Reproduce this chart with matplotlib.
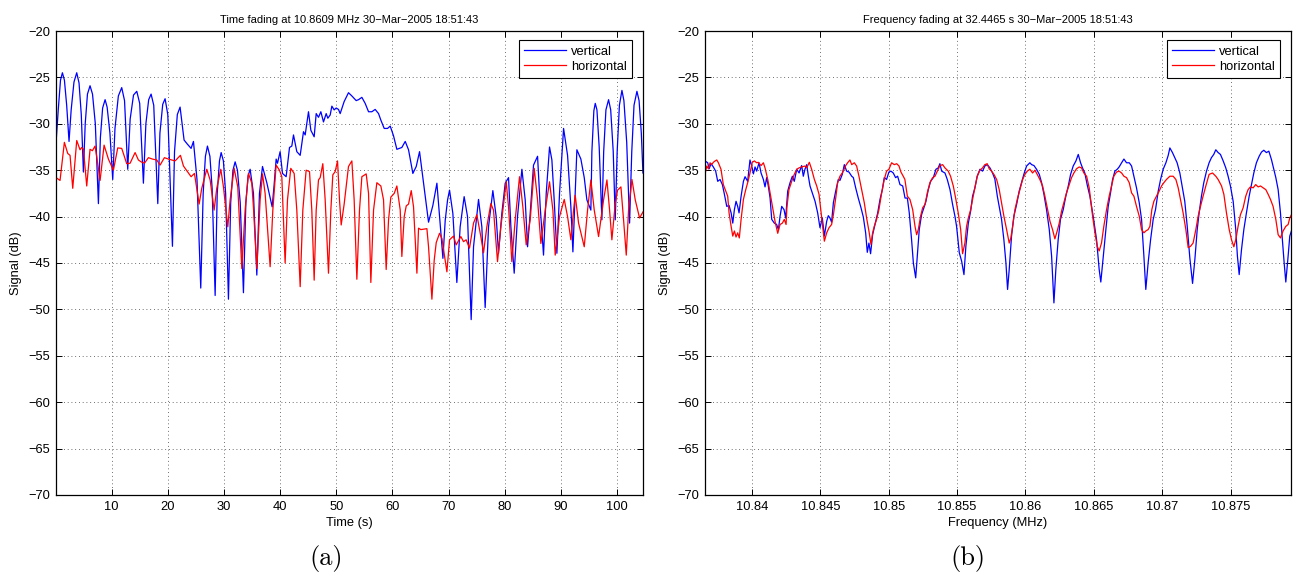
import numpy as np
import matplotlib
matplotlib.use('Agg')
import matplotlib.pyplot as plt
from matplotlib.ticker import FormatStrFormatter

# ---- time fading at 10.8609 MHz: (time s, signal dB) ----
tfade_vert = np.array([
    (0.1, -32.1), (0.5, -28.5), (0.9, -25.3), (1.24, -24.5), (1.6, -25.3), (2.0, -28.0), (2.42, -31.9),
    (2.8, -28.5), (3.3, -25.5), (3.79, -24.5), (4.2, -25.6), (4.6, -29.0), (4.98, -35.2), (5.3, -30.0),
    (5.7, -26.8), (6.16, -25.9), (6.6, -26.8), (7.1, -30.0), (7.65, -38.6), (8.0, -31.5), (8.4, -28.3),
    (8.84, -27.4), (9.2, -28.2), (9.7, -31.0), (10.2, -36.0), (10.6, -30.5), (11.2, -27.0), (11.8, -26.1),
    (12.3, -27.5), (12.87, -34.9), (13.3, -29.5), (13.9, -26.9), (14.48, -26.5), (15.0, -27.8),
    (15.66, -36.4), (16.1, -30.0), (16.6, -27.4), (17.03, -26.8), (17.5, -28.0), (18.22, -38.6),
    (18.6, -31.0), (19.1, -27.9), (19.52, -27.3), (20.0, -29.0), (20.83, -43.2), (21.2, -33.0),
    (21.7, -29.0), (22.19, -28.2), (22.6, -30.2), (22.9, -31.75), (23.5, -32.2), (24.15, -32.65),
    (24.57, -31.9), (25.2, -36.0), (25.87, -47.7), (26.3, -37.5), (26.7, -33.5), (27.06, -32.4),
    (27.5, -33.5), (27.9, -37.0), (28.43, -48.5), (28.8, -37.5), (29.2, -34.0), (29.5, -33.1),
    (29.9, -34.0), (30.3, -37.5), (30.8, -48.9), (31.2, -38.5), (31.6, -35.0), (31.99, -34.1),
    (32.4, -35.0), (32.9, -38.5), (33.47, -48.2), (33.9, -38.5), (34.3, -35.6), (34.66, -34.9),
    (35.25, -37.5), (35.85, -46.3), (36.32, -37.5), (36.86, -34.6), (37.63, -36.35), (38.58, -38.95),
    (38.93, -36.6), (39.29, -33.8), (39.53, -34.25), (40.0, -33.0), (40.42, -35.35), (41.07, -35.7),
    (41.67, -32.55), (42.08, -32.4), (42.38, -31.2), (42.97, -33.0), (43.57, -33.4), (44.16, -30.85),
    (44.46, -31.2), (45.05, -28.7), (45.47, -30.7), (46.06, -31.4), (46.42, -28.9), (46.83, -29.3),
    (47.25, -28.7), (47.72, -29.8), (48.2, -28.9), (48.49, -29.4), (48.91, -29.05), (49.21, -28.1),
    (49.62, -28.5), (49.98, -28.3), (50.39, -28.45), (50.69, -28.9), (51.4, -27.6), (52.17, -26.65),
    (52.77, -27.0), (53.54, -27.5), (53.96, -27.4), (54.55, -27.15), (55.14, -27.8), (55.74, -28.7),
    (56.33, -28.7), (56.92, -28.45), (57.52, -28.9), (57.93, -29.6), (58.53, -30.5), (59.12, -30.5),
    (59.6, -30.25), (60.19, -31.3), (60.78, -32.75), (61.67, -32.55), (62.27, -31.9), (62.86, -32.8),
    (63.63, -35.35), (64.23, -34.6), (64.82, -33.0), (65.53, -36.4), (66.42, -40.6), (67.19, -38.8),
    (67.91, -36.4), (68.38, -40.0), (68.98, -44.5), (69.39, -40.4), (69.81, -38.2), (70.16, -37.15),
    (70.75, -39.65), (71.46, -47.1), (72.05, -41.1), (72.76, -37.85), (73.36, -40.0), (74.01, -51.1),
    (74.43, -43.25), (75.32, -38.15), (75.91, -41.1), (76.5, -49.8), (77.1, -41.1), (77.87, -37.2),
    (78.46, -40.0), (78.88, -43.95), (79.47, -39.65), (80.07, -36.4), (80.66, -35.8), (81.08, -41.1),
    (81.67, -46.1), (82.26, -40.0), (83.04, -34.9), (83.63, -38.2), (84.05, -43.25), (84.52, -39.65),
    (85.11, -34.45), (85.83, -33.5), (86.3, -38.95), (86.89, -44.15), (87.37, -37.5), (87.96, -32.5),
    (88.38, -33.9), (88.79, -38.2), (89.27, -43.95), (89.74, -37.5), (90.46, -30.5), (91.17, -33.4),
    (91.76, -38.95), (92.12, -43.8), (92.53, -37.5), (92.83, -32.8), (93.54, -33.8), (94.14, -35.8),
    (94.61, -38.2), (95.32, -39.3), (95.5, -33.0), (95.85, -28.6), (96.1, -27.8), (96.4, -28.5),
    (96.8, -32.5), (97.28, -40.35), (97.6, -33.0), (98.0, -28.5), (98.47, -27.4), (98.85, -28.5),
    (99.3, -33.0), (99.66, -40.35), (100.0, -33.0), (100.4, -28.0), (100.85, -26.4), (101.2, -27.5),
    (101.7, -32.0), (102.21, -40.7), (102.6, -33.0), (103.0, -28.0), (103.52, -26.5), (103.9, -27.5),
    (104.3, -31.0), (104.59, -35.3),
])

tfade_horiz = np.array([
    (0.1, -35.8), (0.82, -36.1), (1.59, -32.0), (2.19, -33.2), (2.6, -33.4), (3.08, -36.95),
    (3.79, -31.8), (4.38, -32.8), (4.68, -32.55), (4.98, -32.75), (5.57, -36.7), (6.16, -32.75),
    (6.58, -32.9), (7.05, -32.4), (7.35, -33.55), (7.95, -36.1), (8.66, -32.3), (9.43, -33.8),
    (10.32, -35.0), (11.09, -32.6), (11.8, -32.65), (12.69, -34.3), (13.29, -34.25), (14.18, -33.1),
    (14.77, -33.9), (15.25, -34.1), (15.84, -34.25), (16.55, -33.65), (17.27, -33.8), (18.04, -33.9),
    (18.63, -34.45), (19.4, -33.65), (20.12, -33.8), (21.3, -34.0), (22.25, -33.4), (22.79, -34.55),
    (24.15, -35.7), (24.75, -35.35), (25.58, -38.65), (26.05, -36.95), (26.94, -34.9), (27.54, -36.05),
    (28.25, -39.3), (28.72, -36.95), (29.44, -34.9), (29.91, -36.8), (30.68, -41.1), (31.1, -38.2),
    (31.81, -34.8), (32.46, -36.8), (33.18, -45.6), (33.77, -39.3), (34.36, -35.35), (34.96, -36.4),
    (35.25, -39.0), (35.85, -45.6), (36.44, -38.2), (36.86, -35.4), (37.33, -37.5), (38.22, -45.4),
    (38.7, -39.3), (39.29, -34.45), (39.88, -35.0), (40.3, -35.7), (40.89, -45.0), (41.31, -38.2),
    (41.9, -34.8), (42.5, -35.35), (42.97, -39.3), (43.57, -47.55), (44.04, -39.3), (44.63, -35.0),
    (45.23, -35.15), (45.64, -39.3), (46.06, -46.85), (46.42, -39.3), (46.83, -36.05), (47.13, -35.8),
    (47.6, -34.3), (48.02, -38.2), (48.61, -46.1), (49.03, -39.3), (49.38, -35.5), (49.8, -35.15),
    (50.22, -34.0), (50.57, -38.2), (50.87, -40.9), (51.4, -38.65), (52.17, -34.6), (52.77, -34.0),
    (53.18, -38.2), (53.66, -46.75), (54.13, -39.3), (54.55, -35.7), (55.32, -35.4), (55.74, -37.5),
    (56.15, -47.1), (56.63, -39.3), (57.22, -36.35), (57.93, -36.7), (58.41, -38.2), (58.88, -45.7),
    (59.3, -40.35), (59.71, -37.9), (60.31, -37.5), (60.78, -36.7), (61.38, -39.3), (61.67, -44.3),
    (62.09, -40.0), (62.45, -38.85), (62.86, -38.65), (63.34, -37.2), (63.75, -38.95), (64.35, -46.1),
    (64.64, -41.25), (65.06, -41.4), (66.13, -41.3), (66.42, -43.25), (67.02, -48.9), (67.43, -44.7),
    (67.79, -42.8), (68.38, -41.8), (68.8, -42.35), (69.69, -45.95), (70.16, -42.5), (70.86, -42.1),
    (71.34, -43.05), (72.17, -42.15), (72.65, -42.7), (73.12, -42.5), (73.71, -43.4), (74.43, -40.7),
    (75.02, -39.8), (75.73, -42.15), (76.21, -43.9), (76.8, -41.1), (77.51, -38.6), (77.99, -39.3),
    (78.7, -44.85), (79.3, -41.1), (80.25, -36.25), (80.66, -38.95), (81.25, -44.85), (81.85, -40.35),
    (82.62, -35.7), (83.21, -38.95), (83.81, -43.05), (84.52, -40.35), (85.23, -34.8), (85.83, -38.2),
    (86.42, -42.9), (87.19, -39.3), (87.96, -36.25), (88.56, -39.3), (88.97, -44.15), (89.74, -40.0),
    (90.58, -38.15), (91.17, -40.0), (91.76, -42.5), (92.24, -39.3), (92.53, -37.7), (93.13, -40.7),
    (94.14, -43.25), (94.73, -39.3), (95.32, -36.05), (95.92, -39.3), (96.69, -42.15), (97.58, -38.2),
    (98.18, -36.05), (98.65, -39.3), (99.06, -42.5), (99.66, -38.6), (100.07, -37.15), (100.67, -36.8),
    (101.14, -40.35), (101.62, -44.15), (102.03, -39.3), (102.63, -36.0), (103.22, -38.2),
    (103.99, -40.15), (104.59, -39.5),
])

# ---- frequency fading at 32.4465 s: (frequency MHz, signal dB) ----
ffade_vert = np.array([
    (10.83656, -34.0), (10.83676, -34.2), (10.83686, -34.85), (10.83700, -34.3), (10.83717, -34.65),
    (10.83734, -35.1), (10.83749, -36.2), (10.83766, -36.0), (10.83783, -36.55), (10.83798, -37.6),
    (10.83815, -38.9), (10.83832, -38.8), (10.83847, -39.6), (10.83859, -40.7), (10.83871, -39.25),
    (10.83883, -38.35), (10.83895, -38.9), (10.83905, -39.6), (10.83920, -37.8), (10.83937, -36.2),
    (10.83949, -35.7), (10.83968, -36.2), (10.83985, -33.9), (10.83998, -34.55), (10.84010, -35.4),
    (10.84022, -34.65), (10.84034, -35.1), (10.84051, -34.2), (10.84066, -35.3), (10.84083, -36.0),
    (10.84095, -36.8), (10.84107, -35.8), (10.84119, -36.7), (10.84132, -38.0), (10.84144, -40.3),
    (10.84163, -40.7), (10.84180, -40.85), (10.84193, -41.4), (10.84205, -39.95), (10.84217, -38.9),
    (10.84234, -39.25), (10.84246, -40.15), (10.84261, -37.25), (10.84278, -36.35), (10.84295, -35.65),
    (10.84309, -36.2), (10.84327, -34.9), (10.84344, -35.3), (10.84363, -34.5), (10.84375, -35.65),
    (10.84387, -34.9), (10.84400, -34.4), (10.84412, -35.65), (10.84424, -36.7), (10.84441, -37.45),
    (10.84461, -38.35), (10.84480, -39.6), (10.84497, -41.2), (10.84514, -40.15), (10.84529, -42.1),
    (10.84546, -40.5), (10.84558, -39.9), (10.84570, -40.15), (10.84582, -40.6), (10.84595, -38.5),
    (10.84612, -37.25), (10.84631, -36.0), (10.84643, -36.1), (10.84660, -35.45), (10.84675, -34.4),
    (10.84692, -35.1), (10.84709, -35.2), (10.84729, -35.65), (10.84741, -35.8), (10.84758, -36.9),
    (10.84777, -38.0), (10.84797, -39.05), (10.84814, -40.05), (10.84831, -41.75), (10.84843, -43.85),
    (10.84855, -42.85), (10.84867, -44.0), (10.84882, -41.95), (10.84899, -40.85), (10.84919, -39.6),
    (10.84936, -38.15), (10.84953, -37.1), (10.84967, -35.8), (10.84984, -36.0), (10.85001, -35.2),
    (10.85016, -35.1), (10.85033, -35.3), (10.85050, -35.8), (10.85065, -35.65), (10.85082, -36.55),
    (10.85102, -36.7), (10.85119, -38.0), (10.85136, -38.0), (10.85150, -39.6), (10.85167, -42.5),
    (10.85180, -45.0), (10.85197, -46.6), (10.85209, -44.25), (10.85223, -41.4), (10.85240, -39.8),
    (10.85257, -39.05), (10.85272, -38.35), (10.85289, -37.1), (10.85306, -36.2), (10.85326, -35.8),
    (10.85345, -34.9), (10.85362, -34.75), (10.85374, -34.3), (10.85387, -35.1), (10.85411, -35.3),
    (10.85428, -36.0), (10.85448, -37.1), (10.85467, -38.7), (10.85484, -39.95), (10.85496, -41.05),
    (10.85516, -43.9), (10.85533, -44.8), (10.85550, -46.25), (10.85564, -43.2), (10.85582, -40.7),
    (10.85599, -39.4), (10.85613, -37.8), (10.85630, -36.9), (10.85647, -35.65), (10.85667, -34.9),
    (10.85686, -35.1), (10.85703, -34.55), (10.85720, -34.4), (10.85740, -34.75), (10.85759, -35.3),
    (10.85776, -35.95), (10.85794, -37.8), (10.85808, -38.9), (10.85825, -40.3), (10.85842, -42.5),
    (10.85857, -45.0), (10.85869, -47.85), (10.85881, -45.7), (10.85898, -42.1), (10.85915, -39.95),
    (10.85935, -38.7), (10.85954, -37.25), (10.85971, -36.35), (10.85988, -35.45), (10.86008, -34.55),
    (10.86032, -34.2), (10.86045, -34.4), (10.86062, -34.5), (10.86081, -34.9), (10.86101, -35.45),
    (10.86118, -36.35), (10.86135, -37.6), (10.86154, -39.25), (10.86174, -41.4), (10.86191, -44.25),
    (10.86208, -49.3), (10.86222, -45.7), (10.86239, -42.5), (10.86256, -40.3), (10.86276, -39.25),
    (10.86295, -37.8), (10.86313, -36.7), (10.86330, -35.45), (10.86349, -34.55), (10.86369, -34.0),
    (10.86386, -33.3), (10.86403, -34.2), (10.86417, -34.75), (10.86434, -35.3), (10.86451, -36.55),
    (10.86471, -37.8), (10.86495, -39.95), (10.86520, -42.5), (10.86539, -45.7), (10.86551, -47.05),
    (10.86569, -44.25), (10.86588, -41.4), (10.86605, -38.9), (10.86622, -37.45), (10.86637, -36.0),
    (10.86654, -35.1), (10.86671, -34.9), (10.86685, -34.65), (10.86703, -34.2), (10.86720, -33.8),
    (10.86739, -34.2), (10.86759, -34.2), (10.86776, -34.55), (10.86793, -35.65), (10.86812, -36.9),
    (10.86832, -38.5), (10.86849, -40.3), (10.86866, -44.25), (10.86880, -47.85), (10.86897, -45.0),
    (10.86915, -42.5), (10.86934, -40.3), (10.86951, -39.25), (10.86971, -37.25), (10.86988, -36.0),
    (10.87007, -34.9), (10.87027, -34.2), (10.87044, -33.4), (10.87056, -32.6), (10.87075, -33.1),
    (10.87092, -33.65), (10.87109, -34.2), (10.87129, -35.3), (10.87148, -36.9), (10.87165, -38.35),
    (10.87183, -41.05), (10.87202, -44.45), (10.87222, -47.2), (10.87239, -44.6), (10.87256, -41.4),
    (10.87270, -39.6), (10.87287, -37.8), (10.87304, -36.35), (10.87324, -35.1), (10.87343, -34.2),
    (10.87360, -33.65), (10.87377, -33.3), (10.87392, -32.8), (10.87409, -33.1), (10.87426, -33.3),
    (10.87446, -34.0), (10.87465, -34.75), (10.87482, -35.65), (10.87499, -36.7), (10.87519, -38.35),
    (10.87538, -41.4), (10.87550, -44.25), (10.87563, -46.25), (10.87580, -43.55), (10.87597, -41.4),
    (10.87616, -39.6), (10.87636, -37.8), (10.87653, -36.55), (10.87670, -35.3), (10.87689, -34.2),
    (10.87709, -33.5), (10.87726, -33.05), (10.87743, -32.85), (10.87762, -33.1), (10.87780, -32.95),
    (10.87799, -33.85), (10.87816, -34.9), (10.87831, -35.8), (10.87848, -37.1), (10.87865, -39.6),
    (10.87879, -42.5), (10.87892, -45.0), (10.87904, -47.05), (10.87921, -44.25), (10.87933, -42.1),
    (10.87945, -41.55),
])

ffade_horiz = np.array([
    (10.83656, -35.45), (10.83669, -34.55), (10.83681, -34.85), (10.83693, -34.2), (10.83705, -34.4),
    (10.83717, -34.15), (10.83730, -34.0), (10.83742, -33.9), (10.83754, -34.2), (10.83773, -34.9),
    (10.83790, -36.55), (10.83808, -37.25), (10.83822, -37.8), (10.83832, -39.6), (10.83847, -41.05),
    (10.83859, -42.1), (10.83871, -41.55), (10.83883, -42.2), (10.83895, -41.75), (10.83907, -42.3),
    (10.83920, -40.3), (10.83937, -38.15), (10.83954, -37.1), (10.83968, -36.35), (10.83985, -35.3),
    (10.84002, -34.15), (10.84017, -34.0), (10.84034, -34.2), (10.84046, -34.15), (10.84066, -34.5),
    (10.84083, -34.2), (10.84095, -34.75), (10.84115, -36.0), (10.84132, -37.45), (10.84149, -38.9),
    (10.84168, -40.5), (10.84188, -41.8), (10.84205, -40.85), (10.84222, -40.7), (10.84236, -40.3),
    (10.84249, -40.85), (10.84255, -39.0), (10.84270, -37.1), (10.84290, -36.2), (10.84309, -35.45),
    (10.84327, -34.9), (10.84344, -34.75), (10.84363, -34.65), (10.84387, -34.55), (10.84400, -34.75),
    (10.84419, -34.15), (10.84436, -34.9), (10.84456, -36.0), (10.84473, -36.7), (10.84490, -37.6),
    (10.84504, -39.4), (10.84514, -40.7), (10.84529, -42.65), (10.84546, -41.75), (10.84563, -41.2),
    (10.84582, -40.85), (10.84595, -39.8), (10.84612, -38.0), (10.84626, -36.35), (10.84643, -35.65),
    (10.84660, -35.3), (10.84675, -34.85), (10.84685, -34.5), (10.84699, -34.2), (10.84716, -33.9),
    (10.84729, -34.4), (10.84748, -34.2), (10.84765, -34.55), (10.84782, -35.65), (10.84802, -37.1),
    (10.84821, -38.5), (10.84838, -40.15), (10.84855, -41.55), (10.84870, -43.0), (10.84882, -41.75),
    (10.84894, -41.05), (10.84911, -40.3), (10.84928, -39.25), (10.84948, -37.45), (10.84967, -36.0),
    (10.84984, -35.1), (10.85001, -34.9), (10.85021, -34.2), (10.85040, -34.4), (10.85058, -34.3),
    (10.85075, -34.55), (10.85089, -35.2), (10.85106, -35.65), (10.85118, -36.0), (10.85136, -37.8),
    (10.85155, -38.15), (10.85175, -39.25), (10.85192, -41.05), (10.85204, -41.95), (10.85216, -41.4),
    (10.85233, -39.95), (10.85248, -39.05), (10.85265, -38.7), (10.85282, -37.45), (10.85301, -36.35),
    (10.85321, -35.8), (10.85338, -35.65), (10.85355, -35.1), (10.85374, -34.5), (10.85394, -34.4),
    (10.85411, -34.75), (10.85435, -35.1), (10.85452, -35.65), (10.85472, -36.7), (10.85491, -38.15),
    (10.85508, -39.6), (10.85526, -41.4), (10.85540, -44.0), (10.85557, -42.85), (10.85569, -41.05),
    (10.85582, -40.15), (10.85599, -39.25), (10.85613, -38.15), (10.85630, -36.9), (10.85647, -35.65),
    (10.85667, -35.0), (10.85686, -34.75), (10.85703, -34.4), (10.85720, -34.3), (10.85735, -34.85),
    (10.85752, -35.1), (10.85769, -35.45), (10.85789, -36.0), (10.85808, -37.1), (10.85825, -38.5),
    (10.85842, -39.95), (10.85862, -41.4), (10.85881, -42.85), (10.85893, -42.3), (10.85906, -41.05),
    (10.85923, -39.25), (10.85940, -38.15), (10.85959, -37.1), (10.85979, -36.0), (10.85996, -35.45),
    (10.86013, -35.1), (10.86032, -34.9), (10.86052, -35.3), (10.86069, -35.0), (10.86086, -35.45),
    (10.86105, -36.0), (10.86125, -36.7), (10.86142, -37.8), (10.86159, -39.05), (10.86179, -40.5),
    (10.86198, -41.4), (10.86215, -42.4), (10.86232, -41.55), (10.86247, -40.7), (10.86264, -39.4),
    (10.86281, -38.5), (10.86300, -37.45), (10.86320, -36.55), (10.86337, -35.8), (10.86354, -35.3),
    (10.86373, -34.85), (10.86393, -34.65), (10.86410, -34.75), (10.86427, -35.3), (10.86447, -35.65),
    (10.86466, -36.9), (10.86491, -39.95), (10.86508, -41.75), (10.86525, -43.2), (10.86539, -43.7),
    (10.86556, -42.85), (10.86573, -41.05), (10.86593, -39.25), (10.86612, -37.8), (10.86629, -36.7),
    (10.86646, -35.65), (10.86666, -35.2), (10.86685, -35.1), (10.86703, -35.3), (10.86720, -35.65),
    (10.86739, -35.8), (10.86759, -36.35), (10.86776, -37.45), (10.86793, -37.8), (10.86812, -38.9),
    (10.86832, -39.95), (10.86849, -41.4), (10.86866, -41.75), (10.86880, -41.55), (10.86897, -41.4),
    (10.86910, -41.05), (10.86924, -39.25), (10.86939, -38.35), (10.86958, -37.8), (10.86978, -37.25),
    (10.86995, -36.7), (10.87012, -36.35), (10.87031, -36.0), (10.87056, -35.65), (10.87080, -35.65),
    (10.87100, -36.0), (10.87117, -36.9), (10.87134, -38.15), (10.87153, -39.6), (10.87173, -41.4),
    (10.87190, -43.35), (10.87207, -43.2), (10.87226, -42.85), (10.87246, -41.4), (10.87263, -39.95),
    (10.87280, -38.9), (10.87299, -37.8), (10.87319, -36.7), (10.87343, -35.45), (10.87368, -35.3),
    (10.87392, -35.65), (10.87409, -36.0), (10.87434, -36.7), (10.87451, -37.6), (10.87470, -39.6),
    (10.87490, -41.4), (10.87507, -42.5), (10.87524, -43.25), (10.87538, -42.5), (10.87555, -41.05),
    (10.87572, -39.8), (10.87592, -39.05), (10.87611, -37.8), (10.87628, -37.1), (10.87645, -36.8),
    (10.87665, -36.9), (10.87684, -36.55), (10.87702, -36.8), (10.87719, -36.7), (10.87738, -36.9),
    (10.87758, -37.1), (10.87775, -37.6), (10.87792, -38.15), (10.87811, -38.9), (10.87831, -40.3),
    (10.87848, -41.95), (10.87865, -42.3), (10.87884, -41.55), (10.87904, -41.05), (10.87921, -40.85),
    (10.87933, -40.15), (10.87945, -39.8),
])

time_ticks = [10, 20, 30, 40, 50, 60, 70, 80, 90, 100]
freq_ticks = [10.84, 10.845, 10.85, 10.855, 10.86, 10.865, 10.87, 10.875]
db_ticks = [-70, -65, -60, -55, -50, -45, -40, -35, -30, -25, -20]

plt.rcParams['font.family'] = ['Liberation Sans', 'DejaVu Sans']
plt.rcParams['font.size'] = 9.3

fig = plt.figure(figsize=(13.08, 5.73), dpi=100)
W, H = 1308.0, 573.0
ax1 = fig.add_axes([56 / W, 1 - 495 / H, 587 / W, 464 / H])
ax2 = fig.add_axes([705 / W, 1 - 495 / H, 586 / W, 464 / H])


def style_axes(ax):
    ax.set_ylim(-70, -20)
    ax.set_yticks(db_ticks)
    ax.grid(True, color='0.25', linestyle=(0, (1, 3.5)), linewidth=0.6)
    ax.tick_params(direction='in', top=True, right=True, length=4.5, width=0.7, labelsize=9.3, pad=4)
    for s in ax.spines.values():
        s.set_linewidth(0.9)
    ax.set_ylabel('Signal (dB)', fontsize=9.3, labelpad=5)


ax1.plot(tfade_vert[:, 0], tfade_vert[:, 1], color='#0000ff', lw=0.9, label='vertical')
ax1.plot(tfade_horiz[:, 0], tfade_horiz[:, 1], color='#ff0000', lw=0.9, label='horizontal')
ax1.set_xlim(0.1, 104.6)
ax1.set_xticks(time_ticks)
style_axes(ax1)
ax1.set_xlabel('Time (s)', fontsize=9.3, labelpad=3)
ax1.set_title('Time fading at 10.8609 MHz 30\u2212Mar\u22122005 18:51:43', fontsize=8, pad=6)

ax2.plot(ffade_vert[:, 0], ffade_vert[:, 1], color='#0000ff', lw=0.9, label='vertical')
ax2.plot(ffade_horiz[:, 0], ffade_horiz[:, 1], color='#ff0000', lw=0.9, label='horizontal')
ax2.set_xlim(10.83656, 10.87942)
ax2.set_xticks(freq_ticks)
ax2.xaxis.set_major_formatter(FormatStrFormatter('%g'))
style_axes(ax2)
ax2.set_xlabel('Frequency (MHz)', fontsize=9.3, labelpad=3)
ax2.set_title('Frequency fading at 32.4465 s 30\u2212Mar\u22122005 18:51:43', fontsize=8, pad=6)

for ax in (ax1, ax2):
    leg = ax.legend(loc='upper right', bbox_to_anchor=(0.981, 0.98), fancybox=False,
                    edgecolor='black', framealpha=1, fontsize=9.3, handlelength=3.2,
                    borderpad=0.42, labelspacing=0.22, handletextpad=0.4, borderaxespad=0)
    leg.get_frame().set_linewidth(0.8)

fig.text(326 / W, 1 - 558 / H, '(a)', family='cmr10', fontsize=19, ha='center', va='center')
fig.text(968 / W, 1 - 558 / H, '(b)', family='cmr10', fontsize=19, ha='center', va='center')

fig.savefig('out.png', dpi=100)
